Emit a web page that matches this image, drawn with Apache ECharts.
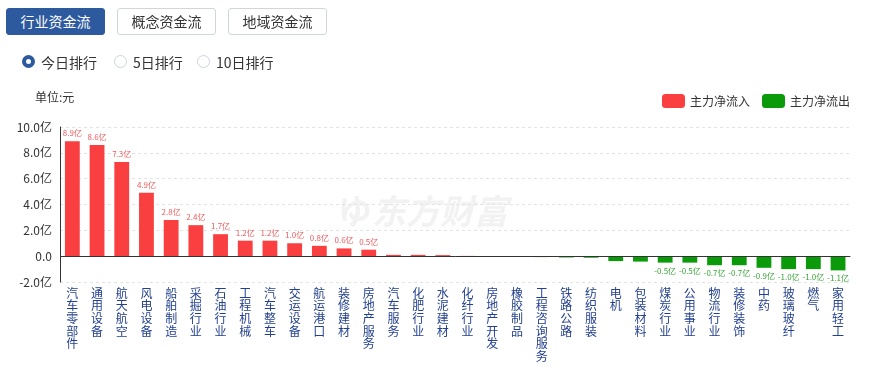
<!DOCTYPE html>
<html><head><meta charset="utf-8">
<script src="https://cdn.jsdelivr.net/npm/echarts@6/dist/echarts.min.js"></script>
<style>
html,body{margin:0;padding:0;background:#fff;width:871px;height:369px;overflow:hidden;font-family:"Noto Sans CJK SC","Microsoft YaHei",sans-serif;}
#chart{position:absolute;left:0;top:0;width:871px;height:369px;}
.btn{position:absolute;top:8px;height:27px;width:99px;border:1px solid #cfd6e0;border-radius:3px;box-sizing:border-box;font-size:14px;line-height:25px;text-align:center;color:#333;background:#fff;z-index:2;}
.btn.on{background:#2d5a9e;border-color:#2d5a9e;color:#fff;}
.radio{position:absolute;top:53px;height:18px;font-size:14px;line-height:18px;color:#333;z-index:2;}
.radio i{position:absolute;left:0;top:2px;width:13px;height:13px;border-radius:50%;box-sizing:border-box;border:1px solid #ccd3dc;background:#fff;}
.radio.on i{border:4px solid #2d5a9e;}
.radio span{position:absolute;left:19px;top:0;white-space:nowrap;}
</style></head>
<body>
<div id="chart"></div>
<div class="btn on" style="left:6px">行业资金流</div>
<div class="btn" style="left:117px">概念资金流</div>
<div class="btn" style="left:228px">地域资金流</div>
<div class="radio on" style="left:22px"><i></i><span>今日排行</span></div>
<div class="radio" style="left:114px"><i></i><span>5日排行</span></div>
<div class="radio" style="left:197px"><i></i><span>10日排行</span></div>
<script>
var categories = ['汽车零部件','通用设备','航天航空','风电设备','船舶制造','采掘行业','石油行业','工程机械','汽车整车','交运设备','航运港口','装修建材','房地产服务','汽车服务','化肥行业','水泥建材','化纤行业','房地产开发','橡胶制品','工程咨询服务','铁路公路','纺织服装','电机','包装材料','煤炭行业','公用事业','物流行业','装修装饰','中药','玻璃玻纤','燃气','家用轻工'];
// 主力净流入/净流出 (亿元)
var netFlow = [8.9,8.6,7.3,4.9,2.8,2.4,1.7,1.2,1.2,1.0,0.8,0.6,0.5,0.1,0.1,0.08,0.02,-0.02,-0.05,-0.07,-0.1,-0.12,-0.38,-0.42,-0.5,-0.5,-0.7,-0.7,-0.9,-1.0,-1.0,-1.1];
var yTicks = {min:-2, max:10, interval:2};
var seriesNames = ['主力净流入','主力净流出'];

var inflow = netFlow.map(function(v){return v>=0?v:'-';});
var outflow = netFlow.map(function(v){return v<0?v:'-';});

var chart = echarts.init(document.getElementById('chart'));
var fam = '"Noto Sans CJK SC","Microsoft YaHei",sans-serif';
function lab(p){ var v=p.value; if(typeof v!=='number'||Math.abs(v)<0.5) return ''; return v.toFixed(1)+'亿'; }
chart.setOption({
  animation:false,
  textStyle:{fontFamily:fam},
  grid:{left:60,right:20.6,top:127,bottom:87,containLabel:false},
  legend:{
    data:seriesNames, right:16, top:89, itemWidth:23, itemHeight:14, itemGap:12,
    icon:'roundRect', textStyle:{fontSize:12,color:'#333',fontFamily:fam}
  },
  graphic:[
    {type:'text',left:35,top:91,style:{text:'单位:元',font:'12px '+fam,fill:'#333'}},
    {type:'text',left:372,top:194,z:-10,style:{text:'东方财富',font:'italic bold 34px '+fam,fill:'#f2f2f2'}},
    {type:'text',left:338,top:194,z:-10,style:{text:'ゆ',font:'bold 34px '+fam,fill:'#f2f2f2'}}
  ],
  xAxis:{
    type:'category', data:categories,
    axisLine:{show:false,onZero:false}, axisTick:{show:false},
    axisLabel:{interval:0,margin:5,fontSize:12,lineHeight:12.6,color:'#24418f',verticalAlign:'top',
      formatter:function(n){return n.split('').join('\n');}}
  },
  yAxis:{
    type:'value', min:yTicks.min, max:yTicks.max, interval:yTicks.interval,
    axisLine:{show:true,lineStyle:{color:'#333'}}, axisTick:{show:false},
    axisLabel:{margin:8,fontSize:12,color:'#333',formatter:function(v){return v===0?'0.0':v.toFixed(1)+'亿';}},
    splitLine:{show:true,lineStyle:{color:'#e3e3e3',type:[3,3]}}
  },
  series:[
    {name:seriesNames[0],type:'bar',stack:'f',data:inflow,barWidth:'60%',
     itemStyle:{color:'#f93f3f'},
     label:{show:true,position:'top',distance:4,fontSize:8,color:'#ee5a5a',formatter:lab},
     markLine:{silent:true,symbol:'none',label:{show:false},lineStyle:{color:'#333',type:'solid',width:1},data:[{yAxis:0}]}
    },
    {name:seriesNames[1],type:'bar',stack:'f',data:outflow,barWidth:'60%',
     itemStyle:{color:'#0a9a0a'},
     label:{show:true,position:'bottom',distance:4,fontSize:8,color:'#3aa53a',formatter:lab}
    }
  ]
});
</script>
</body></html>
